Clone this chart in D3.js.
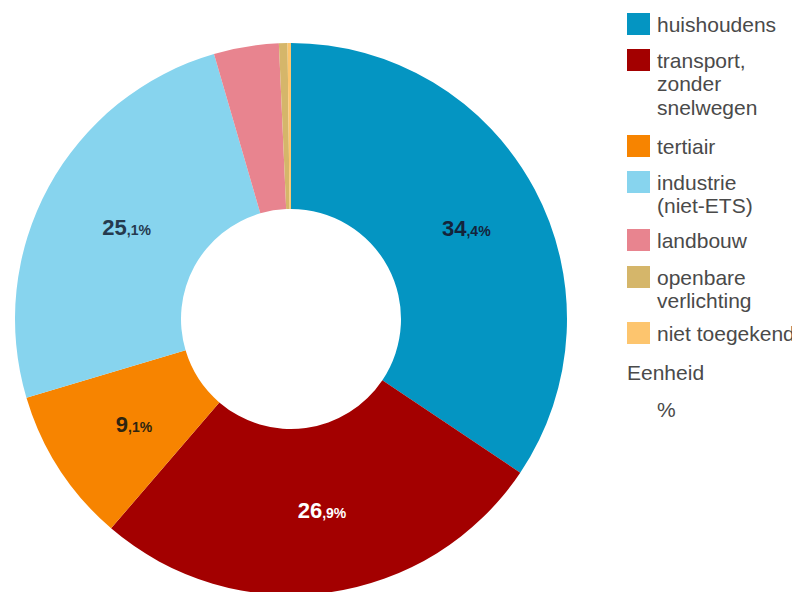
<!DOCTYPE html>
<html>
<head>
<meta charset="utf-8">
<script src="https://cdn.jsdelivr.net/npm/d3@7"></script>
<style>
  html, body { margin: 0; padding: 0; background: #fff; }
  svg { display: block; }
  text { font-family: "Liberation Sans", Arial, sans-serif; }
</style>
</head>
<body>
<svg id="chart" width="805" height="592"></svg>
<script>
// Sector shares of energy use (%)
const categories = ["huishoudens", "transport, zonder snelwegen", "tertiair", "industrie (niet-ETS)", "landbouw", "openbare verlichting", "niet toegekend"];
const legendLines = [["huishoudens"], ["transport,", "zonder", "snelwegen"], ["tertiair"], ["industrie", "(niet-ETS)"], ["landbouw"], ["openbare", "verlichting"], ["niet toegekend"]];
const values = [34.4, 26.9, 9.1, 25.1, 3.8, 0.5, 0.2];
const colors = ["#0495c2", "#a30000", "#f78400", "#87d4ee", "#e8848f", "#d5b66a", "#fdc56e"];
const labelColors = ["#14233a", "#ffffff", "#2e2410", "#253a4e", null, null, null];
const showLabel = [true, true, true, true, false, false, false];
const unitTitle = "Eenheid";
const unitValue = "%";

const svg = d3.select("#chart");
const cx = 291, cy = 319, outerR = 276, innerR = 110;

const pie = d3.pie().sort(null).value(d => d.value);
const data = categories.map((c, i) => ({ name: c, value: values[i], i }));
const arcs = pie(data);
const arc = d3.arc().innerRadius(innerR).outerRadius(outerR);
const labelArc = d3.arc().innerRadius(193).outerRadius(193);

const g = svg.append("g").attr("transform", `translate(${cx},${cy})`);
g.selectAll("path.slice")
  .data(arcs)
  .join("path")
  .attr("class", "slice")
  .attr("d", arc)
  .attr("fill", d => colors[d.data.i]);

// value labels: integer part large, decimals small
const fmtParts = v => {
  const s = v.toFixed(1).split(".");
  return [s[0], "," + s[1] + "%"];
};
const lbl = g.selectAll("text.val")
  .data(arcs.filter(d => showLabel[d.data.i]))
  .join("text")
  .attr("class", "val")
  .attr("transform", d => {
    const [x, y] = labelArc.centroid(d);
    return `translate(${x + 5},${y + 8})`;
  })
  .attr("text-anchor", "middle")
  .attr("font-weight", "bold")
  .attr("fill", d => labelColors[d.data.i]);
lbl.append("tspan").attr("font-size", 22).text(d => fmtParts(d.data.value)[0]);
lbl.append("tspan").attr("font-size", 14).text(d => fmtParts(d.data.value)[1]);

// legend (its panel is cut off at the right edge)
const clip = svg.append("clipPath").attr("id", "legclip");
clip.append("rect").attr("x", 600).attr("y", 0).attr("width", 192).attr("height", 592);
const leg = svg.append("g").attr("clip-path", "url(#legclip)");
const itemTops = [13, 49, 135, 171, 229, 266, 322];
const lineH = 23.5;
const fs = 21;
legendLines.forEach((lines, i) => {
  const y0 = itemTops[i];
  leg.append("rect")
    .attr("x", 627).attr("y", y0)
    .attr("width", 23).attr("height", 22)
    .attr("fill", colors[i]);
  const t = leg.append("text")
    .attr("x", 657).attr("y", y0 + 18.5)
    .attr("font-size", fs)
    .attr("fill", "#4a4a4a");
  lines.forEach((ln, k) => {
    t.append("tspan").attr("x", 657).attr("dy", k === 0 ? 0 : lineH).text(ln);
  });
});
leg.append("text").attr("x", 627).attr("y", 380).attr("font-size", fs).attr("fill", "#4a4a4a").text(unitTitle);
leg.append("text").attr("x", 657).attr("y", 417).attr("font-size", fs).attr("fill", "#4a4a4a").text(unitValue);
</script>
</body>
</html>
